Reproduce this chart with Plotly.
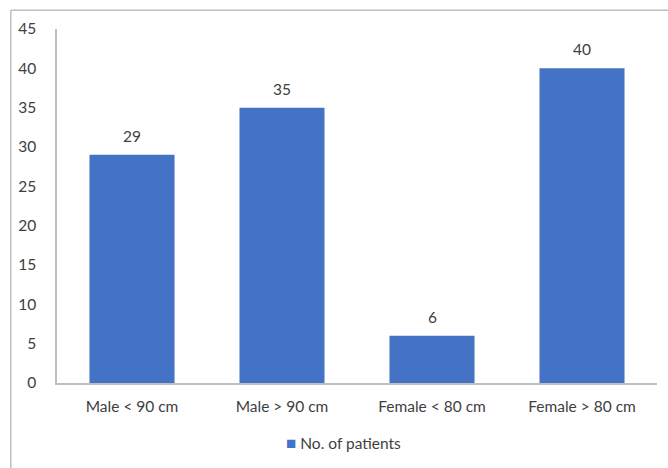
import plotly.graph_objects as go

categories = ["Male < 90 cm", "Male > 90 cm", "Female < 80 cm", "Female > 80 cm"]
patients = [29, 35, 6, 40]
y_ticks = [0, 5, 10, 15, 20, 25, 30, 35, 40, 45]
series_name = "No. of patients"

FONT = "Lato, Calibri, Carlito, sans-serif"
TEXT = "#404040"
AXIS = "#bfbfbf"
BAR = "#4472c4"

fig = go.Figure(
    go.Bar(
        x=categories,
        y=patients,
        name=series_name,
        marker=dict(color=BAR, line=dict(width=0)),
        showlegend=False,
    )
)

# value labels above each bar
for cat, val in zip(categories, patients):
    fig.add_annotation(
        x=cat, y=val, text=str(val), showarrow=False,
        yanchor="bottom", yshift=8,
        font=dict(family=FONT, size=15.5, color=TEXT),
    )

# legend entry below the plot
fig.add_annotation(
    xref="paper", yref="paper", x=0.478, y=-0.168,
    xanchor="center", yanchor="middle", showarrow=False,
    text=f"<span style='color:{BAR};font-size:17px'>■</span> {series_name}",
    font=dict(family=FONT, size=15.5, color=TEXT),
)

fig.update_layout(
    width=668,
    height=468,
    margin=dict(l=57, r=11, t=29, b=85),
    paper_bgcolor="white",
    plot_bgcolor="white",
    bargap=0.433,
    font=dict(family=FONT, size=15.5, color=TEXT),
    showlegend=False,
    shapes=[
        dict(type="line", xref="paper", yref="paper", x0=-0.077, x1=1.02,
             y0=1.053, y1=1.053, line=dict(color=AXIS, width=1.5)),
        dict(type="line", xref="paper", yref="paper", x0=-0.077, x1=-0.077,
             y0=1.053, y1=-0.3, line=dict(color=AXIS, width=1.5)),
    ],
)

fig.update_xaxes(
    showgrid=False,
    showline=True,
    linecolor=AXIS,
    linewidth=1.5,
    ticks="",
    tickfont=dict(family=FONT, size=15.5, color=TEXT),
    ticklabelstandoff=9,
)

fig.update_yaxes(
    range=[0, 45],
    tickvals=y_ticks,
    showgrid=False,
    zeroline=False,
    showline=True,
    linecolor=AXIS,
    linewidth=1.5,
    ticks="",
    ticklabelstandoff=16,
    tickfont=dict(family=FONT, size=15.5, color=TEXT),
)

fig.write_html("out.html")
